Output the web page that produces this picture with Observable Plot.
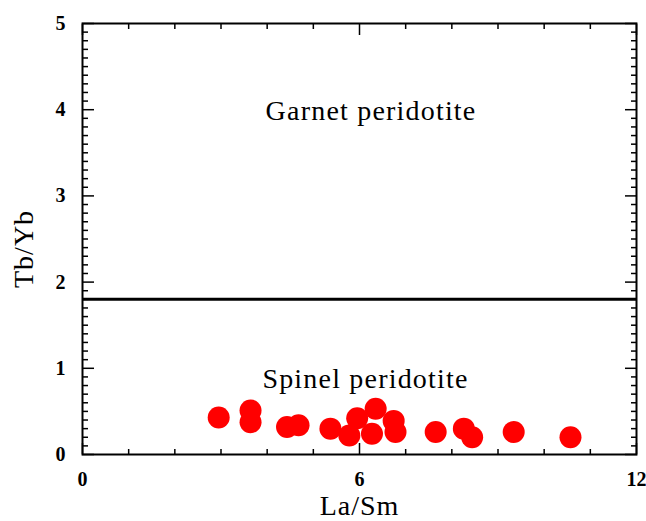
<!DOCTYPE html>
<html>
<head>
<meta charset="utf-8">
<script src="https://cdn.jsdelivr.net/npm/d3@7"></script>
<script src="https://cdn.jsdelivr.net/npm/@observablehq/plot@0.6"></script>
<style>
  html, body { margin: 0; padding: 0; background: #fff; }
</style>
</head>
<body>
<div id="chart"></div>
<script>
// La/Sm values of samples
const laSm = [2.95, 3.64, 3.64, 4.43, 4.68, 5.37, 5.78, 5.95, 6.35, 6.27, 6.74, 6.78, 7.65, 8.26, 8.44, 9.34, 10.57];
// Tb/Yb values of samples
const tbYb = [0.43, 0.51, 0.375, 0.32, 0.34, 0.30, 0.22, 0.42, 0.53, 0.24, 0.39, 0.26, 0.26, 0.30, 0.20, 0.26, 0.20];

const xMajorTicks = [0, 6, 12];
const xMinorTicks = [1, 2, 3, 4, 5, 7, 8, 9, 10, 11];
const yMajorTicks = [0, 1, 2, 3, 4, 5];
const yMinorTicks = d3.range(0, 51).map(d => d / 10).filter(d => Math.abs(d - Math.round(d)) > 1e-9);

const boundary = [1.8];
const regionLabels = ["Garnet peridotite", "Spinel peridotite"];
const regionX = [6.25, 6.13];
const regionY = [3.99, 0.87];

const xLabel = "La/Sm";
const yLabel = "Tb/Yb";

const points = laSm.map((x, i) => ({x, y: tbYb[i]}));
const regions = regionLabels.map((t, i) => ({t, x: regionX[i], y: regionY[i]}));

const tickStyle = {text: null, label: null, strokeWidth: 1.5};

const chart = Plot.plot({
  width: 646,
  height: 521,
  marginLeft: 82,
  marginRight: 10,
  marginTop: 23,
  marginBottom: 67,
  style: {fontFamily: "'Liberation Serif', 'Times New Roman', serif", background: "#fff", color: "#000"},
  x: {domain: [0, 12]},
  y: {domain: [0, 5]},
  marks: [
    Plot.ruleY(boundary, {stroke: "#000", strokeWidth: 3}),
    Plot.dot(points, {x: "x", y: "y", r: 11, fill: "#ff0000", stroke: "none"}),
    Plot.text(regions, {x: "x", y: "y", text: "t", fontSize: 28, fill: "#000", lineAnchor: "middle"}),
    // inward ticks
    Plot.axisX({ticks: xMinorTicks, anchor: "bottom", tickSize: -5, ...tickStyle}),
    Plot.axisX({ticks: xMajorTicks, anchor: "bottom", tickSize: -11, ...tickStyle}),
    Plot.axisX({ticks: xMinorTicks, anchor: "top", tickSize: -5, ...tickStyle}),
    Plot.axisX({ticks: xMajorTicks, anchor: "top", tickSize: -11, ...tickStyle}),
    Plot.axisY({ticks: yMinorTicks, anchor: "left", tickSize: -6, ...tickStyle}),
    Plot.axisY({ticks: yMajorTicks, anchor: "left", tickSize: -12, ...tickStyle}),
    Plot.axisY({ticks: yMinorTicks, anchor: "right", tickSize: -6, ...tickStyle}),
    Plot.axisY({ticks: yMajorTicks, anchor: "right", tickSize: -12, ...tickStyle}),
    // tick labels
    Plot.axisX({ticks: xMajorTicks, anchor: "bottom", tickSize: 0, tickPadding: 17, fontSize: 20, fontWeight: "bold", label: null, tickFormat: d => String(d)}),
    Plot.axisY({ticks: yMajorTicks, anchor: "left", tickSize: 0, tickPadding: 17, fontSize: 20, fontWeight: "bold", label: null, tickFormat: d => String(d)}),
    // axis titles
    Plot.text([xLabel], {frameAnchor: "bottom", dy: 52, fontSize: 28, lineAnchor: "middle", fill: "#000"}),
    Plot.text([yLabel], {frameAnchor: "left", dx: -58, dy: 49, rotate: -90, fontSize: 28, lineAnchor: "middle", fill: "#000"}),
    Plot.frame({stroke: "#000", strokeWidth: 2})
  ]
});

// widen letter spacing of the serif labels to match the reference rendering
d3.select(chart).selectAll("text")
  .filter(function() { return regionLabels.includes(this.textContent); })
  .style("letter-spacing", "1.2px");
d3.select(chart).selectAll("text")
  .filter(function() { return this.textContent === xLabel || this.textContent === yLabel; })
  .style("letter-spacing", "1px");

document.getElementById("chart").appendChild(chart);
</script>
</body>
</html>
